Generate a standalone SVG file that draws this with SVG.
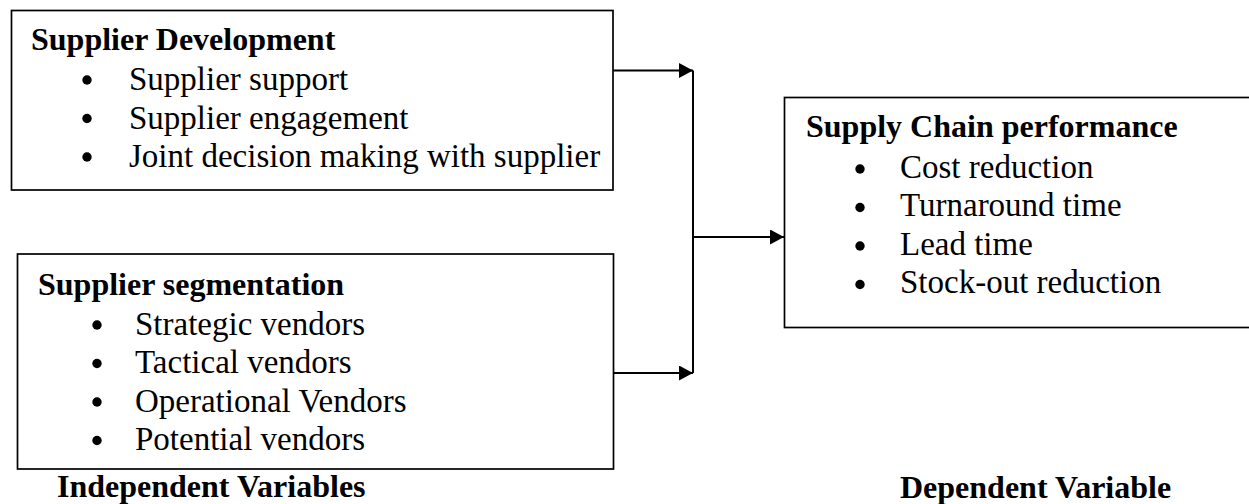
<svg xmlns="http://www.w3.org/2000/svg" width="1249" height="504" viewBox="0 0 1249 504">
  <defs>
    <marker id="arrow" viewBox="0 0 14 15" refX="14" refY="7.5" markerWidth="14" markerHeight="15" markerUnits="userSpaceOnUse" orient="auto">
      <path d="M0,0 L14,7.5 L0,15 Z" fill="#000"/>
    </marker>
    <style>
      .box { fill: #fff; stroke: #000; stroke-width: 1.7; }
      .title { font-family: "Liberation Serif", "Times New Roman", serif; font-weight: bold; font-size: 32px; fill: #000; }
      .item { font-family: "Liberation Serif", "Times New Roman", serif; font-size: 33px; fill: #000; }
      .label { font-family: "Liberation Serif", "Times New Roman", serif; font-weight: bold; font-size: 32px; fill: #000; }
      .dot { fill: #000; }
      .conn { fill: none; stroke: #000; stroke-width: 2; }
    </style>
  </defs>

  <rect width="1249" height="504" fill="#fff"/>

  <!-- connectors -->
  <g id="connectors">
    <line class="conn" x1="613" y1="70.5" x2="693" y2="70.5" marker-end="url(#arrow)"/>
    <line class="conn" x1="613" y1="373" x2="693" y2="373" marker-end="url(#arrow)"/>
    <line class="conn" x1="693" y1="70.5" x2="693" y2="373"/>
    <line class="conn" x1="693" y1="237" x2="784" y2="237" marker-end="url(#arrow)"/>
  </g>

  <!-- independent variable: supplier development -->
  <g id="supplier-development">
    <rect class="box" x="11.5" y="10.5" width="601.5" height="179.5"/>
    <text class="title" x="31" y="50">Supplier Development</text>
    <circle class="dot" cx="87" cy="80" r="4.7"/>
    <text class="item" x="129" y="90">Supplier support</text>
    <circle class="dot" cx="87" cy="118.5" r="4.7"/>
    <text class="item" x="129" y="128.5">Supplier engagement</text>
    <circle class="dot" cx="87" cy="157" r="4.7"/>
    <text class="item" x="129" y="167">Joint decision making with supplier</text>
  </g>

  <!-- independent variable: supplier segmentation -->
  <g id="supplier-segmentation">
    <rect class="box" x="17.5" y="254" width="596" height="215"/>
    <text class="title" x="38" y="295">Supplier segmentation</text>
    <circle class="dot" cx="97" cy="325" r="4.7"/>
    <text class="item" x="135" y="334.5">Strategic vendors</text>
    <circle class="dot" cx="97" cy="363.5" r="4.7"/>
    <text class="item" x="135" y="373">Tactical vendors</text>
    <circle class="dot" cx="97" cy="402" r="4.7"/>
    <text class="item" x="135" y="411.5">Operational Vendors</text>
    <circle class="dot" cx="97" cy="440.5" r="4.7"/>
    <text class="item" x="135" y="450">Potential vendors</text>
  </g>

  <!-- dependent variable: supply chain performance -->
  <g id="supply-chain-performance">
    <rect class="box" x="784.5" y="97.5" width="480" height="230"/>
    <text class="title" x="806" y="137">Supply Chain performance</text>
    <circle class="dot" cx="860" cy="169" r="4.7"/>
    <text class="item" x="900" y="177.5">Cost reduction</text>
    <circle class="dot" cx="860" cy="207.5" r="4.7"/>
    <text class="item" x="900" y="216">Turnaround time</text>
    <circle class="dot" cx="860" cy="246" r="4.7"/>
    <text class="item" x="900" y="254.5">Lead time</text>
    <circle class="dot" cx="860" cy="284.5" r="4.7"/>
    <text class="item" x="900" y="293">Stock-out reduction</text>
  </g>

  <!-- axis captions -->
  <g id="captions">
    <text class="label" x="57" y="497">Independent Variables</text>
    <text class="label" x="900" y="498">Dependent Variable</text>
  </g>
</svg>
